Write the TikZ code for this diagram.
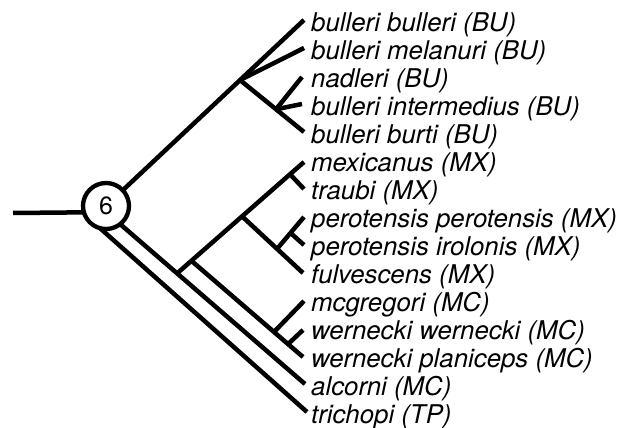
\documentclass[tikz,border=0pt]{standalone}
\usepackage{fontspec}
\setmainfont{TeX Gyre Heros}
\usetikzlibrary{calc}
\begin{document}
\begin{tikzpicture}[x=1pt,y=-1pt,
  br/.style={line width=4.5pt},
  lab/.style={anchor=base west,inner sep=0pt,font=\fontsize{25.8}{30}\selectfont\itshape},
]
\useasboundingbox (0,0) rectangle (630,428);
\node[circle,draw,line width=4.3pt,minimum size=46pt,inner sep=0pt,outer sep=0pt,
  font=\fontsize{25}{30}\selectfont] (c) at (106,206) {6};
% tips
\coordinate (t1) at (304,20);
\coordinate (t2) at (304,48);
\coordinate (t3) at (302,77);
\coordinate (t4) at (302,104);
\coordinate (t5) at (304,132);
\coordinate (t6) at (304,162);
\coordinate (t7) at (304,189);
\coordinate (t8) at (304,217);
\coordinate (t9) at (304,245);
\coordinate (t10) at (303,273);
\coordinate (t11) at (304,301);
\coordinate (t12) at (303,330);
\coordinate (t13) at (303,357);
\coordinate (t14) at (305,384);
\coordinate (t15) at (307,412);
\coordinate (r0) at (13,213);
% root
\draw[br] (r0) -- (c.-164);
% BU clade
\draw[br] (c) -- (t1);
\coordinate (bu) at ($(c)!0.677!(t1)$);
\draw[br] (bu) -- (t2);
\draw[br] (bu) -- (t5);
\coordinate (nad) at ($(bu)!0.5625!(t5)$);
\draw[br] (nad) -- (t3);
\draw[br] (nad) -- (t4);
% long lower lines
\draw[br] (c.-52) -- (t14);
\draw[br] (c.-105) -- (t15);
% MX clade
\coordinate (mx) at ($(c.-52)!0.308!(t14)$);
\draw[br] (mx) -- (t6);
\coordinate (tn) at ($(mx)!0.89!(t6)$);
\draw[br] (tn) -- (t7);
\coordinate (pn) at ($(mx)!0.512!(t6)$);
\draw[br] (pn) -- (t10);
\coordinate (pp) at ($(pn)!0.574!(t10)$);
\draw[br] (pp) -- (t8);
\coordinate (ir) at ($(pp)!0.5!(t8)$);
\draw[br] (ir) -- (t9);
% MC clade
\coordinate (mcb) at ($(mx)!0.113!(t6)$);
\draw[br] (mcb) -- (t13);
\coordinate (mg) at ($(mcb)!0.74!(t13)$);
\draw[br] (mg) -- (t11);
\coordinate (ww) at ($(mcb)!0.866!(t13)$);
\draw[br] (ww) -- (t12);
% labels
\node[lab] (l1) at (311,31.5) {bulleri bulleri (BU)};
\node[lab] (l2) at (311,59.5) {bulleri melanuri (BU)};
\node[lab] (l3) at (311,87.5) {nadleri (BU)};
\node[lab] (l4) at (311,115.5) {bulleri intermedius (BU)};
\node[lab] (l5) at (311,143.5) {bulleri burti (BU)};
\node[lab] (l6) at (311,171.5) {mexicanus (MX)};
\node[lab] (l7) at (311,199.5) {traubi (MX)};
\node[lab] (l8) at (311,227.5) {perotensis perotensis (MX)};
\node[lab] (l9) at (311,255.5) {perotensis irolonis (MX)};
\node[lab] (l10) at (311,283.5) {fulvescens (MX)};
\node[lab] (l11) at (311,311.5) {mcgregori (MC)};
\node[lab] (l12) at (311,339.5) {wernecki wernecki (MC)};
\node[lab] (l13) at (311,367.5) {wernecki planiceps (MC)};
\node[lab] (l14) at (311,395.5) {alcorni (MC)};
\node[lab] (l15) at (311,423.5) {trichopi (TP)};
\end{tikzpicture}
\end{document}
